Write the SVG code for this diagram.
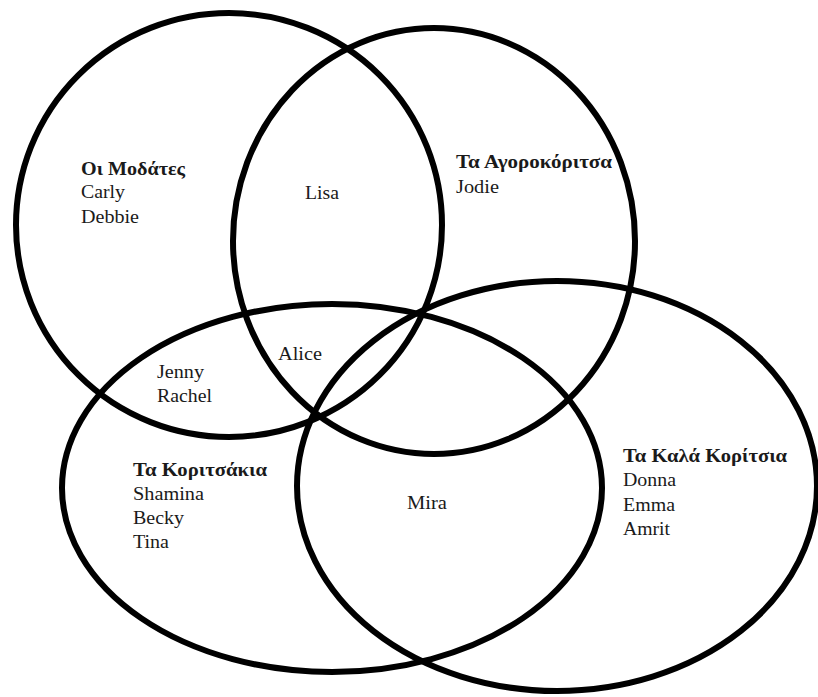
<svg xmlns="http://www.w3.org/2000/svg" width="818" height="697" viewBox="0 0 818 697">
<style>
.set{fill:none;stroke:#000;stroke-width:6}
text{font-family:"Liberation Serif","Times New Roman",serif;font-size:18px;fill:#1a1a1a}
.h{font-weight:bold}
</style>
<rect width="818" height="697" fill="#fff"/>
<g id="set-modates">
<ellipse class="set" cx="229" cy="225" rx="213" ry="212"/>
<text class="h" x="81" y="175" textLength="104" lengthAdjust="spacingAndGlyphs">Οι Μοδάτες</text>
<text x="81" y="198" textLength="44" lengthAdjust="spacingAndGlyphs">Carly</text>
<text x="81" y="223" textLength="58" lengthAdjust="spacingAndGlyphs">Debbie</text>
</g>
<g id="set-agorokoritsa">
<ellipse class="set" cx="434" cy="241" rx="201" ry="213"/>
<text class="h" x="456" y="168" textLength="156" lengthAdjust="spacingAndGlyphs">Τα Αγοροκόριτσα</text>
<text x="456" y="193" textLength="43" lengthAdjust="spacingAndGlyphs">Jodie</text>
</g>
<g id="set-koritsakia">
<ellipse class="set" cx="332" cy="488" rx="270" ry="184"/>
<text class="h" x="133" y="476" textLength="134" lengthAdjust="spacingAndGlyphs">Τα Κοριτσάκια</text>
<text x="133" y="500" textLength="71" lengthAdjust="spacingAndGlyphs">Shamina</text>
<text x="133" y="524" textLength="51" lengthAdjust="spacingAndGlyphs">Becky</text>
<text x="133" y="548" textLength="36" lengthAdjust="spacingAndGlyphs">Tina</text>
</g>
<g id="set-kala-koritsia">
<ellipse class="set" cx="557" cy="486" rx="260" ry="205"/>
<text class="h" x="623" y="462" textLength="164" lengthAdjust="spacingAndGlyphs">Τα Καλά Κορίτσια</text>
<text x="623" y="486" textLength="53" lengthAdjust="spacingAndGlyphs">Donna</text>
<text x="623" y="511" textLength="52" lengthAdjust="spacingAndGlyphs">Emma</text>
<text x="623" y="535" textLength="47" lengthAdjust="spacingAndGlyphs">Amrit</text>
</g>
<g id="overlaps">
<text x="305" y="199" textLength="34" lengthAdjust="spacingAndGlyphs">Lisa</text>
<text x="278" y="360" textLength="44" lengthAdjust="spacingAndGlyphs">Alice</text>
<text x="157" y="378" textLength="47" lengthAdjust="spacingAndGlyphs">Jenny</text>
<text x="157" y="402" textLength="55" lengthAdjust="spacingAndGlyphs">Rachel</text>
<text x="407" y="509" textLength="40" lengthAdjust="spacingAndGlyphs">Mira</text>
</g>
<g id="connectors"></g>
</svg>
